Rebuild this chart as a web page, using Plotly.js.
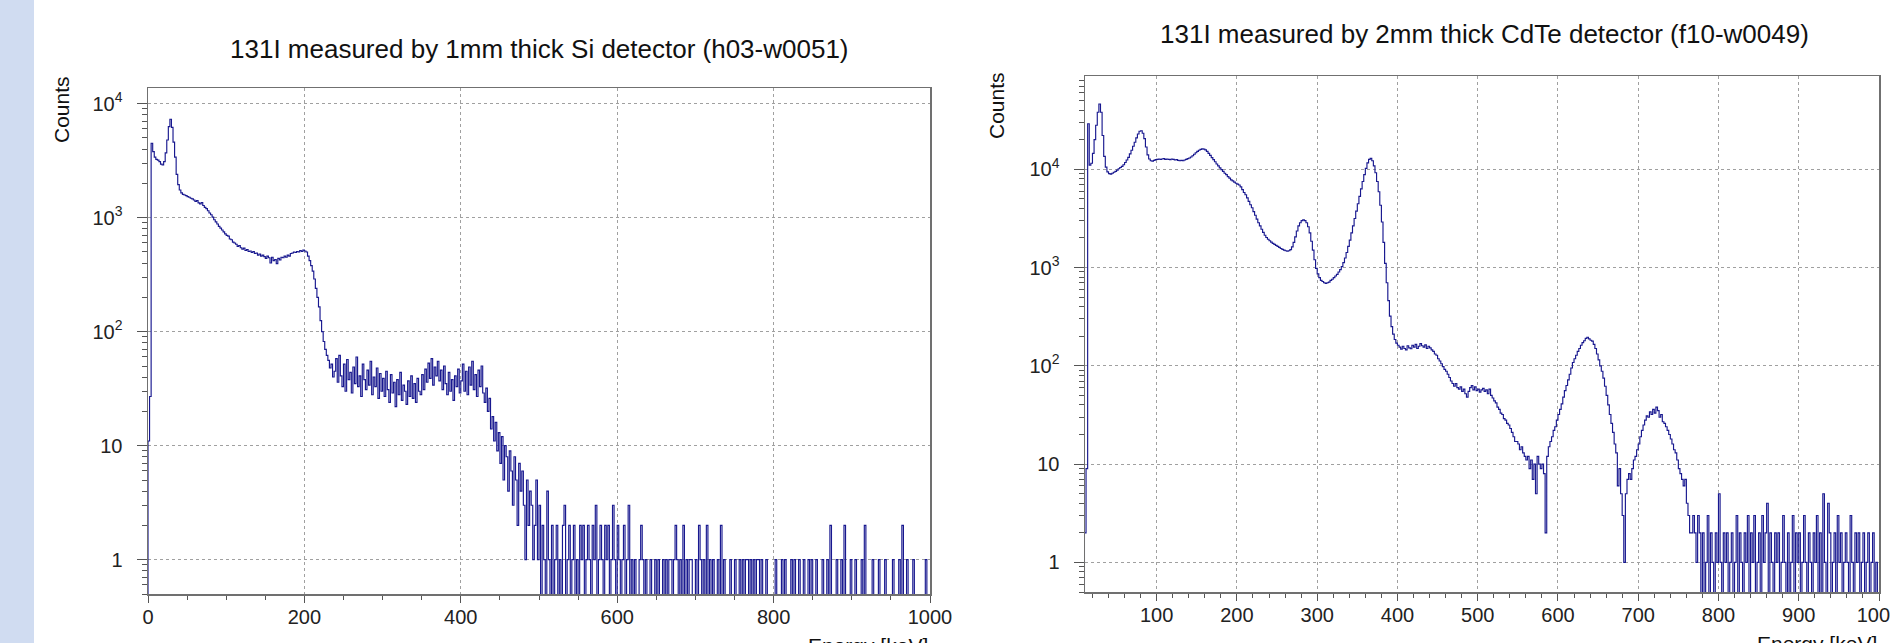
<!DOCTYPE html>
<html>
<head>
<meta charset="utf-8">
<script src="https://cdn.plot.ly/plotly-3.0.1.min.js"></script>
<style>html,body{margin:0;padding:0;background:#fff;}#chart{width:1890px;height:643px;}</style>
</head>
<body>
<div id="chart"></div>
<script>
// ---------------- DATA ----------------
// Energy binning of both spectra (keV)
const binWidth = 2;
const energyStart = 0;

// 131I measured by 1mm thick Si detector (h03-w0051): counts per 2 keV bin, 0..1000 keV
const siCounts = [
  // 0-50
  11,27,4500,3800,3400, 3250,3200,3100,2950,2900, 3100,3700,4800,6300,7300, 6200,4600,3400,2400,1950, 1750,1650,1600,1580,1560,
  // 50-100
  1530,1510,1480,1460,1430, 1390,1410,1350,1320,1360, 1280,1230,1200,1150,1100, 1060,1010,960,920,880, 840,810,780,750,720,
  // 100-150
  700,690,650,640,610, 600,585,560,570,545, 530,540,515,525,505, 510,495,505,485,490, 470,480,460,470,455,
  // 150-200
  440,460,445,400,450, 420,430,395,440,425, 450,445,460,450,470, 460,485,490,500,495, 505,500,515,505,520,
  // 200-250
  510,500,460,420,380, 340,290,240,200,165, 125,100,82,70,62, 56,48,52,40,45, 58,36,62,41,33,
  // 250-300
  52,30,57,38,44, 29,49,35,60,33, 41,27,52,38,31, 46,34,55,28,40, 33,48,26,43,30,
  // 300-350
  39,27,45,31,24, 42,29,36,22,38, 28,44,25,34,30, 23,37,27,41,26, 35,24,39,30,28,
  // 350-400
  42,31,47,36,53, 39,58,34,49,41, 55,37,46,31,50, 35,28,44,30,38, 25,41,33,47,29,
  // 400-450
  37,52,30,45,28, 49,34,55,31,42, 27,46,33,50,29, 24,32,20,26,14, 18,11,16,9,13,
  // 450-500
  7,12,5,10,8, 4,9,6,3,8, 5,2,7,4,6, 3,1,5,2,4, 3,1,2,5,1,
  // 500-1000
  3,0,2,1,0,4,1,0,2,0,  1,2,0,1,0,2,3,0,1,2,  0,1,2,0,1,0,2,1,2,0,  1,2,1,0,2,1,3,0,1,2,  1,0,2,1,2,0,1,3,1,0,
  2,1,0,1,2,0,1,3,0,1,  0,1,0,0,1,2,1,0,1,0,  0,1,0,0,1,0,1,0,0,1,  0,1,0,1,1,0,1,2,1,0,  1,0,2,0,1,0,1,1,0,0,
  1,0,2,1,0,1,0,2,0,1,  0,1,0,0,1,0,2,0,1,0,  0,0,1,0,0,1,0,0,1,0,  1,0,1,1,0,1,0,1,0,1,  1,0,1,0,0,1,0,0,0,0,
  0,1,0,0,0,1,0,1,0,0,  0,1,0,1,0,0,1,0,0,1,  0,0,1,0,1,0,0,1,0,0,  0,1,0,0,1,0,2,0,0,0,  1,0,0,1,0,2,0,0,0,1,
  0,0,1,0,0,0,1,0,2,0,  0,0,0,1,0,0,0,1,0,0,  0,1,0,0,0,0,1,0,0,0,  1,0,2,0,0,1,0,0,0,1,  0,0,0,0,0,0,0,1,0,0
];

// 131I measured by 2mm thick CdTe detector (f10-w0049): counts per 2 keV bin, 0..1000 keV
const cdteCounts = [
  // 0-50
  0,0,0,0,0, 2,9,29000,11000,11500, 14500,20000,28000,38000,46000, 38000,22000,13500,10500,9400, 9000,8900,9100,9300,9500,
  // 50-100
  9800,10100,10400,10700,11100, 11700,12400,13200,14300,15600, 17100,18800,20800,22800,24300, 24600,23200,20500,16800,14000, 12700,12200,12100,12300,12500,
  // 100-150
  12600,12700,12600,12700,12800, 12600,12700,12600,12500,12700, 12600,12400,12500,12300,12200, 12300,12200,12400,12600,12800, 13000,13300,13700,14200,14700,
  // 150-200
  15200,15600,15900,16100,16000, 15700,15200,14500,13800,13100, 12500,11900,11300,10800,10300, 9900,9500,9100,8800,8400, 8100,7800,7600,7400,7200,
  // 200-250
  7050,6900,6600,6200,5800, 5500,5100,4700,4350,4050, 3700,3400,3100,2850,2650, 2450,2280,2130,2020,1940, 1870,1810,1760,1720,1680,
  // 250-300
  1640,1600,1560,1530,1500, 1480,1470,1480,1520,1620, 1800,2050,2350,2650,2850, 3000,3050,3000,2850,2600, 2250,1850,1500,1200,980,
  // 300-350
  860,790,740,720,700, 690,700,710,740,760, 790,820,850,900,950, 1020,1120,1250,1420,1640, 1900,2250,2650,3150,3750,
  // 350-400
  4450,5300,6300,7500,8800, 10200,11600,12600,12900,12200, 10800,9200,7500,5900,4300, 2900,1800,1100,700,460, 320,250,210,185,170,
  // 400-450
  162,155,148,158,150, 145,160,152,149,162, 155,165,150,158,168, 160,155,163,150,158, 152,145,140,132,128,
  // 450-500
  118,112,105,98,92, 88,82,76,70,66, 62,66,60,58,61, 55,58,52,48,55, 60,63,57,61,56,
  // 500-550
  58,54,57,59,55, 57,52,58,50,47, 44,42,38,36,33, 32,29,28,26,25, 23,21,19,17,17,
  // 550-600
  16,14,15,13,12, 11,12,9,11,7, 10,5,12,10,9, 10,8,2,12,15, 17,19,22,24,28,
  // 600-650
  32,36,41,48,56, 63,72,82,95,108, 118,128,140,150,162, 172,180,190,195,188, 182,178,165,150,132,
  // 650-700
  115,100,88,75,62, 50,40,32,26,21, 16,13,6,9,5, 3,1,5,7,8, 7,9,11,12,14,
  // 700-750
  16,19,22,25,28, 31,30,34,32,36, 33,38,35,30,32, 27,26,24,22,20, 18,16,14,13,11,
  // 750-800
  9,8,7,6,7, 4,3,2,2,3, 2,1,3,2,0, 2,0,1,3,0, 2,1,0,2,1,
  // 800-850
  5,1,0,2,1, 2,0,1,2,0, 1,3,0,2,1, 0,2,1,3,0, 2,1,3,0,1,
  // 850-900
  2,0,3,1,2, 4,0,2,1,0, 2,1,2,0,1, 3,1,0,2,0, 1,3,0,2,1,
  // 900-950
  2,0,1,3,1, 0,2,1,0,2, 1,3,0,2,0, 5,1,0,4,2, 0,1,2,0,3,
  // 950-1000
  1,2,0,1,2, 1,0,3,1,0, 2,1,2,0,1, 2,0,1,2,0, 1,2,0,1,0
];

const siTitle = '131I measured by 1mm thick Si detector (h03-w0051)';
const cdteTitle = '131I measured by 2mm thick CdTe detector (f10-w0049)';
const yTitle = 'Counts';
const xTitle = 'Energy [keV]';
const logTickVals = [1, 10, 100, 1000, 10000];
const logTickText = ['1', '10', '10<sup>2</sup>', '10<sup>3</sup>', '10<sup>4</sup>'];

// ---------------- DRAWING ----------------
// Empty bins are drawn down to (below) the bottom of the log axis, like ROOT does.
const EMPTY_LEVEL = 0.4;
function histPath(counts) {
  const xs = [energyStart], ys = [EMPTY_LEVEL];
  counts.forEach((c, i) => {
    xs.push(energyStart + i * binWidth);
    ys.push(c > 0 ? c : EMPTY_LEVEL);
  });
  const xEnd = energyStart + counts.length * binWidth;
  xs.push(xEnd); ys.push(ys[ys.length - 1]);
  xs.push(xEnd); ys.push(EMPTY_LEVEL);
  return {xs, ys};
}

const lineColor = '#18188f';
const si = histPath(siCounts);
const cd = histPath(cdteCounts);

const traces = [
  {x: si.xs, y: si.ys, type: 'scatter', mode: 'lines', line: {shape: 'hv', color: lineColor, width: 1.15}, xaxis: 'x', yaxis: 'y', hoverinfo: 'skip'},
  {x: cd.xs, y: cd.ys, type: 'scatter', mode: 'lines', line: {shape: 'hv', color: lineColor, width: 1.15}, xaxis: 'x2', yaxis: 'y2', hoverinfo: 'skip'}
];

const W = 1890, H = 643;
const px = v => v / W;
const py = v => 1 - v / H;

const frameColor = '#707070';
const gridColor = '#a0a0a0';
const tickColor = '#555';
const fontFam = 'Liberation Sans, Arial, Helvetica, sans-serif';
const narrowFam = 'Liberation Sans Narrow, Arial Narrow, Liberation Sans, sans-serif';

function xAxis(domain, range, dtick, minorDtick, anchor) {
  return {
    domain, range, anchor, type: 'linear',
    tickmode: 'linear', tick0: 0, dtick,
    showline: true, mirror: true, linecolor: frameColor, linewidth: 1.5,
    ticks: 'outside', ticklen: 7, tickwidth: 1, tickcolor: tickColor,
    showgrid: true, gridcolor: gridColor, griddash: 'dot', gridwidth: 1,
    zeroline: false, tickfont: {size: 20, color: '#222', family: fontFam},
    ticklabelstandoff: -3, ticklabeloverflow: 'allow',
    minor: {ticks: 'outside', ticklen: 4, tickwidth: 1, tickcolor: tickColor, dtick: minorDtick, tick0: 0, showgrid: false}
  };
}
function yAxis(domain, range, anchor) {
  return {
    domain, range, anchor, type: 'log',
    tickmode: 'array', tickvals: logTickVals, ticktext: logTickText,
    showline: true, mirror: true, linecolor: frameColor, linewidth: 1.5,
    ticks: 'outside', ticklen: 10, tickwidth: 1, tickcolor: tickColor,
    showgrid: true, gridcolor: gridColor, griddash: 'dot', gridwidth: 1,
    zeroline: false, tickfont: {size: 20, color: '#222', family: fontFam},
    ticklabelstandoff: 10,
    minor: {ticks: 'outside', ticklen: 5, tickwidth: 1, tickcolor: tickColor, tickmode: 'linear', dtick: 'D1', showgrid: false}
  };
}

const layout = {
  width: W, height: H,
  margin: {l: 0, r: 0, t: 0, b: 0},
  paper_bgcolor: '#ffffff', plot_bgcolor: '#ffffff',
  showlegend: false,
  font: {family: fontFam, color: '#222'},
  xaxis: xAxis([px(148), px(930)], [0, 1000], 200, 50, 'y'),
  yaxis: yAxis([1 - 594 / H, 1 - 88 / H], [Math.log10(0.5), 4.1375], 'x'),
  xaxis2: xAxis([px(1085), px(1879)], [10.7, 1000], 100, 20, 'y2'),
  yaxis2: yAxis([1 - 592 / H, 1 - 76 / H], [Math.log10(0.5), 4.948], 'x2'),
  shapes: [
    {type: 'rect', xref: 'paper', yref: 'paper', x0: 0, x1: px(34), y0: 0, y1: 1,
     fillcolor: '#d0dcf1', line: {width: 0}, layer: 'below'}
  ],
  annotations: [
    {text: siTitle, xref: 'paper', yref: 'paper', x: px(539), y: py(49), xanchor: 'center', yanchor: 'middle',
     showarrow: false, font: {size: 26, color: '#111', family: fontFam}},
    {text: cdteTitle, xref: 'paper', yref: 'paper', x: px(1484), y: py(34), xanchor: 'center', yanchor: 'middle',
     showarrow: false, font: {size: 26, color: '#111', family: fontFam}},
    {text: yTitle, xref: 'paper', yref: 'paper', x: px(61), y: py(110), xanchor: 'center', yanchor: 'middle',
     textangle: -90, showarrow: false, font: {size: 21, color: '#111', family: narrowFam}},
    {text: yTitle, xref: 'paper', yref: 'paper', x: px(996), y: py(106), xanchor: 'center', yanchor: 'middle',
     textangle: -90, showarrow: false, font: {size: 21, color: '#111', family: narrowFam}},
    {text: xTitle, xref: 'paper', yref: 'paper', x: px(930), y: py(632), xanchor: 'right', yanchor: 'top',
     showarrow: false, font: {size: 21, color: '#111', family: fontFam}},
    {text: xTitle, xref: 'paper', yref: 'paper', x: px(1879), y: py(630), xanchor: 'right', yanchor: 'top',
     showarrow: false, font: {size: 21, color: '#111', family: fontFam}}
  ]
};

Plotly.newPlot('chart', traces, layout, {staticPlot: true, displayModeBar: false});
</script>
</body>
</html>
